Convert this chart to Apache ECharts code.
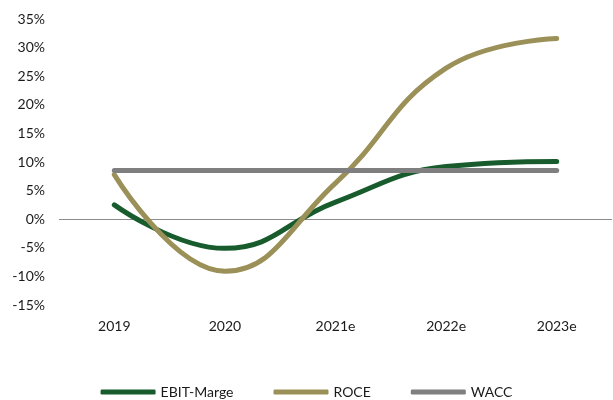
<!DOCTYPE html>
<html>
<head>
<meta charset="utf-8">
<script src="https://cdn.jsdelivr.net/npm/echarts@6/dist/echarts.min.js"></script>
<style>
  html, body { margin: 0; padding: 0; background: #fff; }
  #main { width: 613px; height: 400px; }
</style>
</head>
<body>
<div id="main"></div>
<script>
var years = ['2019', '2020', '2021e', '2022e', '2023e'];
var ebitMarge = [2.5, -5.1, 3.0, 9.2, 10.1];
var roce = [7.8, -9.1, 6.3, 26.4, 31.6];
var wacc = [8.5, 8.5, 8.5, 8.5, 8.5];

var font = 'Lato';
var chart = echarts.init(document.getElementById('main'));

function lineSeries(name, data, color) {
  return {
    name: name,
    type: 'line',
    data: data,
    smooth: 0.45,
    symbol: 'none',
    lineStyle: { color: color, width: 5, cap: 'round' },
    itemStyle: { color: color },
    z: 3
  };
}

var series = [
  lineSeries('EBIT-Marge', ebitMarge, '#185c2e'),
  lineSeries('ROCE', roce, '#9b9058'),
  lineSeries('WACC', wacc, '#7f7f7f')
];
// zero line
series[0].markLine = {
  silent: true,
  symbol: 'none',
  label: { show: false },
  lineStyle: { color: '#8c8c8c', width: 1.2, type: 'solid' },
  data: [{ yAxis: 0 }],
  z: 1
};

chart.setOption({
  animation: false,
  grid: { left: 59, right: 1, top: 19, bottom: 95 },
  legend: {
    top: 380,
    left: 'center',
    icon: 'roundRect',
    itemWidth: 55,
    itemHeight: 5,
    itemGap: 40,
    textStyle: { fontFamily: font, fontSize: 14, color: '#1a1a1a' },
    data: ['EBIT-Marge', 'ROCE', 'WACC']
  },
  xAxis: {
    type: 'category',
    data: years,
    axisLine: { show: false },
    axisTick: { show: false },
    axisLabel: { margin: 14, fontFamily: font, fontSize: 14, color: '#1a1a1a' }
  },
  yAxis: {
    type: 'value',
    min: -15,
    max: 35,
    interval: 5,
    splitLine: { show: false },
    axisLine: { show: false },
    axisTick: { show: false },
    axisLabel: { margin: 14, formatter: '{value}%', fontFamily: font, fontSize: 14, color: '#1a1a1a' }
  },
  series: series
});
</script>
</body>
</html>
